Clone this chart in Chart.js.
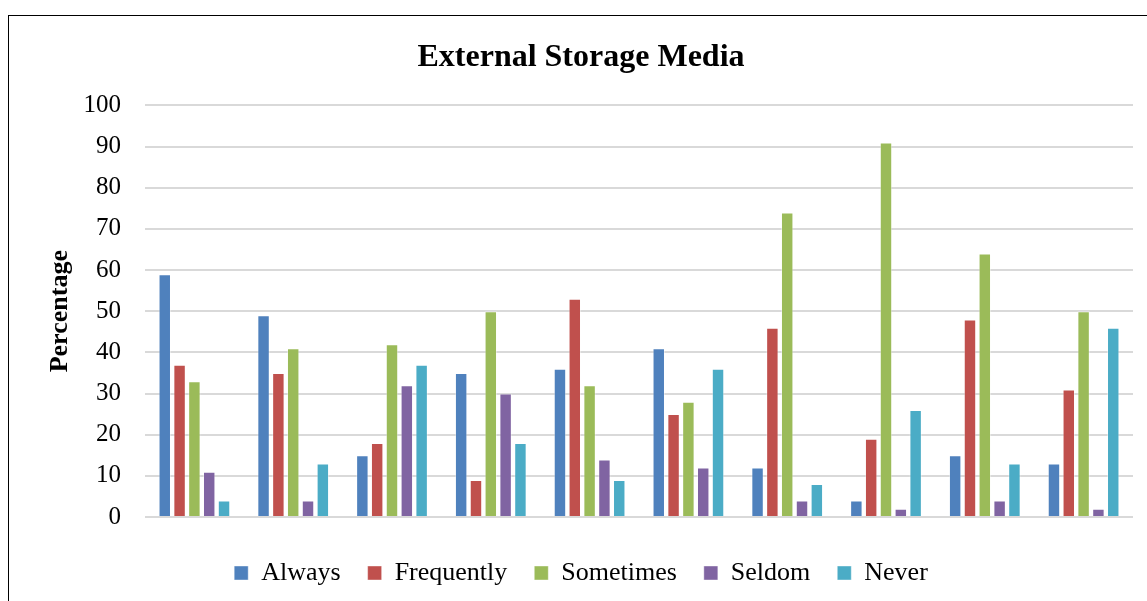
<!DOCTYPE html>
<html lang="en">
<head>
    <meta charset="UTF-8">
    <title>External Storage Media</title>
    <script src="https://cdn.jsdelivr.net/npm/chart.js"></script>
    <style>
        html, body {
            margin: 0;
            padding: 0;
            background: #ffffff;
            overflow: hidden;
        }
        .frame {
            position: absolute;
            left: 8px;
            top: 15px;
            width: 1150px;
            height: 600px;
            border: 1px solid #000;
        }
        .chart-box {
            position: absolute;
            left: 9px;
            top: 16px;
            width: 1138px;
            height: 585px;
        }
    </style>
</head>
<body>
    <div class="frame"></div>
    <div class="chart-box">
        <canvas id="storageChart"></canvas>
    </div>

    <script>
        // groups (no labels are shown on the x axis)
        const categories = ['1', '2', '3', '4', '5', '6', '7', '8', '9', '10'];
        const yTicks = [0, 10, 20, 30, 40, 50, 60, 70, 80, 90, 100];

        const always     = [59, 49, 15, 35, 36, 41, 12,  4, 15, 13];
        const frequently = [37, 35, 18,  9, 53, 25, 46, 19, 48, 31];
        const sometimes  = [33, 41, 42, 50, 32, 28, 74, 91, 64, 50];
        const seldom     = [11,  4, 32, 30, 14, 12,  4,  2,  4,  2];
        const never      = [ 4, 13, 37, 18,  9, 36,  8, 26, 13, 46];

        const serif = "'Liberation Serif', 'Times New Roman', serif";

        function series(label, data, color) {
            return {
                label: label,
                data: data,
                backgroundColor: color,
                borderColor: 'rgba(255,255,255,0.4)',
                borderWidth: 1,
                categoryPercentage: 0.75,
                barPercentage: 0.84
            };
        }

        const ctx = document.getElementById('storageChart').getContext('2d');
        new Chart(ctx, {
            type: 'bar',
            data: {
                labels: categories,
                datasets: [
                    series('Always', always, '#4F81BD'),
                    series('Frequently', frequently, '#C0504D'),
                    series('Sometimes', sometimes, '#9BBB59'),
                    series('Seldom', seldom, '#8064A2'),
                    series('Never', never, '#4BACC6')
                ]
            },
            options: {
                responsive: true,
                maintainAspectRatio: false,
                animation: false,
                layout: {
                    padding: { left: 20, right: 14, top: 8, bottom: 5 }
                },
                plugins: {
                    title: {
                        display: true,
                        text: 'External Storage Media',
                        color: '#000',
                        font: { family: serif, size: 32, weight: 'bold' },
                        padding: { top: 15, bottom: 28 }
                    },
                    legend: {
                        position: 'bottom',
                        labels: {
                            color: '#000',
                            boxWidth: 14,
                            boxHeight: 14,
                            padding: 27,
                            font: { family: serif, size: 26 }
                        }
                    },
                    tooltip: { enabled: false }
                },
                scales: {
                    x: {
                        grid: { display: false, drawTicks: false },
                        border: { display: false },
                        ticks: { display: false },
                        afterFit: axis => { axis.height = 16; }
                    },
                    y: {
                        min: 0,
                        max: 100,
                        afterBuildTicks: axis => {
                            axis.ticks = yTicks.map(v => ({ value: v }));
                        },
                        afterFit: axis => { axis.width = 116; },
                        grid: { color: '#d9d9d9', lineWidth: 2, drawTicks: false },
                        border: { display: false },
                        ticks: {
                            color: '#000',
                            padding: 24,
                            font: { family: serif, size: 25 }
                        },
                        title: {
                            display: true,
                            text: 'Percentage',
                            color: '#000',
                            padding: { top: 16, bottom: 0 },
                            font: { family: serif, size: 26, weight: 'bold' }
                        }
                    }
                }
            }
        });
    </script>
</body>
</html>
